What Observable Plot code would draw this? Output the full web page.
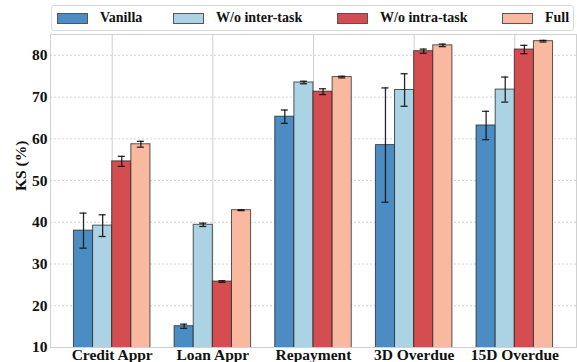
<!DOCTYPE html>
<html>
<head>
<meta charset="utf-8">
<script src="https://cdn.jsdelivr.net/npm/d3@7"></script>
<script src="https://cdn.jsdelivr.net/npm/@observablehq/plot@0.6"></script>
<style>
  html, body { margin: 0; padding: 0; background: #fff; }
  #wrap { width: 577px; height: 362px; position: relative; font-family: "Liberation Serif", "Times New Roman", serif; font-weight: bold; }
  #legend { position: absolute; left: 51px; top: 5px; width: 521px; height: 24px; border: 1px solid #d9d9d9; border-radius: 3px; font-size: 14px; color: #111; }
  .sw { position: absolute; top: 7px; width: 29px; height: 9px; border: 1px solid #555; }
  .tx { position: absolute; top: 3px; white-space: nowrap; line-height: 18px; }
  #chart { position: absolute; left: 0; top: 33px; }
</style>
</head>
<body>
<div id="wrap">
  <div id="legend"></div>
  <div id="chart"></div>
</div>
<script>
const categories = ["Credit Appr", "Loan Appr", "Repayment", "3D Overdue", "15D Overdue"];
const series = ["Vanilla", "W/o inter-task", "W/o intra-task", "Full"];
const colors = ["#4b8dc2", "#abd3e3", "#d44d51", "#f9b9a0"];

const vanilla      = [38.0, 15.1, 65.3, 58.5, 63.2];
const vanillaErr   = [4.2, 0.5, 1.6, 13.7, 3.4];
const woInter      = [39.2, 39.4, 73.5, 71.7, 71.8];
const woInterErr   = [2.6, 0.4, 0.3, 3.9, 3.0];
const woIntra      = [54.6, 25.8, 71.3, 81.0, 81.4];
const woIntraErr   = [1.2, 0.2, 0.7, 0.5, 1.0];
const full         = [58.7, 42.9, 74.8, 82.4, 83.4];
const fullErr      = [0.7, 0.1, 0.2, 0.3, 0.2];

const yTicks = [10, 20, 30, 40, 50, 60, 70, 80];

const values = [vanilla, woInter, woIntra, full];
const errors = [vanillaErr, woInterErr, woIntraErr, fullErr];

const barW = 0.19;
const capHalf = 0.035;
const rows = [];
series.forEach((s, k) => {
  categories.forEach((c, i) => {
    const center = i + (k - 1.5) * barW;
    rows.push({series: s, cat: c, center, x1: center - barW / 2, x2: center + barW / 2,
               value: values[k][i], lo: values[k][i] - errors[k][i], hi: values[k][i] + errors[k][i]});
  });
});

// legend (swatch left offsets inside the legend box)
const legendLeft = [5, 121, 285, 450];
const legend = document.getElementById("legend");
series.forEach((s, k) => {
  const sw = document.createElement("div");
  sw.className = "sw";
  sw.style.left = legendLeft[k] + "px";
  sw.style.background = colors[k];
  const t = document.createElement("div");
  t.className = "tx";
  t.style.left = (legendLeft[k] + 43) + "px";
  t.textContent = s;
  legend.appendChild(sw);
  legend.appendChild(t);
});

const font = "'Liberation Serif', 'Times New Roman', serif";
const chart = Plot.plot({
  width: 577,
  height: 329,
  marginLeft: 50,
  marginRight: 1,
  marginTop: 1,
  marginBottom: 15,
  style: {fontFamily: font, fontWeight: "bold", fontSize: "15.5px", color: "#111", background: "#fff"},
  x: {domain: [-0.613, 4.613], axis: null},
  y: {domain: [10, 85], axis: null},
  color: {domain: series, range: colors},
  marks: [
    Plot.gridY({ticks: [20, 30, 40, 50, 60, 70, 80], stroke: "#d4d4d4", strokeOpacity: 1, strokeDasharray: "2,2"}),
    Plot.gridX({ticks: [0, 1, 2, 3, 4], stroke: "#cfcfcf", strokeOpacity: 1}),
    Plot.frame({stroke: "#d0d0d0"}),
    Plot.rect(rows, {x1: "x1", x2: "x2", y1: 0, y2: "value", fill: "series", stroke: "#222", strokeOpacity: 0.75, strokeWidth: 1, clip: true}),
    Plot.ruleX(rows, {x: "center", y1: "lo", y2: "hi", stroke: "#111", strokeWidth: 1.3, strokeOpacity: 0.9}),
    Plot.ruleY(rows, {y: "lo", x1: d => d.center - capHalf, x2: d => d.center + capHalf, stroke: "#111", strokeWidth: 1.3, strokeOpacity: 0.9}),
    Plot.ruleY(rows, {y: "hi", x1: d => d.center - capHalf, x2: d => d.center + capHalf, stroke: "#111", strokeWidth: 1.3, strokeOpacity: 0.9}),
    Plot.axisY({ticks: yTicks, tickSize: 0, tickPadding: 3, label: null, fontSize: 15.5, fontFamily: font, fontWeight: "bold"}),
    Plot.axisX({ticks: [0, 1, 2, 3, 4], tickFormat: i => categories[i], tickSize: 0, tickPadding: 1.5, label: null, fontSize: 15.5, fontFamily: font, fontWeight: "bold"}),
    Plot.text(["KS (%)"], {frameAnchor: "left", dx: -29, rotate: -90, text: d => d, fontSize: 15.5, fontWeight: "bold", fontFamily: font})
  ]
});
document.getElementById("chart").appendChild(chart);
</script>
</body>
</html>
